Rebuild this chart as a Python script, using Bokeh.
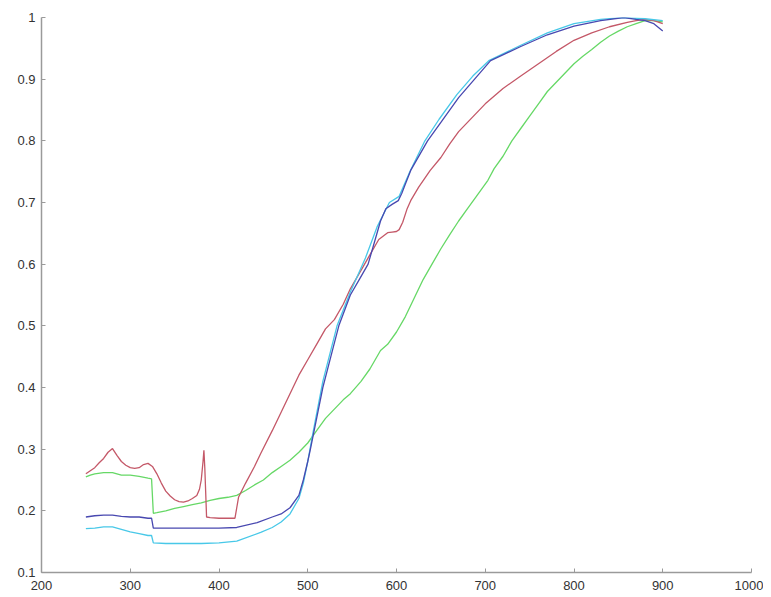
from bokeh.plotting import figure
from bokeh.embed import file_html
from bokeh.resources import INLINE
from bokeh.models import Range1d, FixedTicker

red_x = [250,255,260,265,270,275,280,285,290,295,300,305,310,315,320,325,330,335,340,345,350,355,360,365,370,375,378,380,382,383,384,386,390,400,410,418,420,422,430,440,447,460,470,480,490,500,510,520,530,540,548,560,570,580,590,595,600,603,607,612,616,625,638,650,660,670,680,690,700,720,740,760,780,800,820,840,860,870,880,890,900]
red_y = [0.26,0.265,0.27,0.278,0.285,0.295,0.301,0.29,0.28,0.274,0.27,0.269,0.27,0.275,0.277,0.272,0.26,0.245,0.232,0.224,0.218,0.215,0.214,0.216,0.22,0.225,0.235,0.25,0.28,0.298,0.27,0.19,0.189,0.188,0.188,0.188,0.205,0.222,0.245,0.272,0.293,0.33,0.36,0.39,0.42,0.445,0.47,0.495,0.51,0.535,0.56,0.59,0.615,0.64,0.651,0.652,0.653,0.656,0.668,0.69,0.703,0.725,0.752,0.773,0.795,0.815,0.83,0.845,0.86,0.885,0.905,0.925,0.945,0.963,0.975,0.985,0.992,0.995,0.997,0.995,0.99]

blue_x = [250,260,270,280,290,300,310,320,324,326,330,340,360,380,400,420,443,460,470,480,490,495,500,503,510,517,526,535,548,558,568,576,582,588,595,602,606,610,616,635,650,670,688,706,740,770,800,830,856,870,880,890,900]
blue_y = [0.19,0.192,0.193,0.193,0.191,0.19,0.19,0.188,0.188,0.172,0.172,0.172,0.172,0.172,0.172,0.173,0.181,0.19,0.195,0.205,0.225,0.25,0.28,0.30,0.35,0.40,0.45,0.50,0.55,0.575,0.60,0.64,0.67,0.69,0.697,0.703,0.715,0.73,0.752,0.80,0.83,0.87,0.90,0.93,0.953,0.972,0.986,0.995,1.0,0.997,0.995,0.99,0.978]

cyan_x = [250,260,270,280,290,300,310,320,324,326,340,360,380,400,420,447,460,470,480,490,495,500,505,517,533,548,565,578,592,603,615,632,648,668,686,704,740,770,800,830,856,880,900]
cyan_y = [0.171,0.172,0.174,0.174,0.17,0.166,0.163,0.16,0.16,0.148,0.147,0.147,0.147,0.148,0.151,0.165,0.173,0.182,0.195,0.22,0.245,0.28,0.32,0.41,0.50,0.555,0.61,0.66,0.70,0.71,0.75,0.80,0.835,0.875,0.905,0.93,0.955,0.975,0.99,0.997,1.0,0.998,0.995]

green_x = [250,255,260,270,280,290,300,310,320,324,326,330,340,350,360,370,380,390,400,410,420,430,440,450,460,470,480,490,500,510,520,530,540,548,560,570,582,590,600,610,620,630,640,650,660,670,680,690,703,710,720,730,740,750,760,770,780,790,800,810,820,830,840,850,860,870,880,890,900]
green_y = [0.255,0.258,0.26,0.262,0.262,0.258,0.258,0.256,0.253,0.252,0.196,0.197,0.2,0.204,0.207,0.21,0.213,0.217,0.22,0.222,0.225,0.233,0.242,0.25,0.262,0.272,0.282,0.295,0.31,0.33,0.35,0.365,0.38,0.39,0.41,0.43,0.46,0.47,0.49,0.515,0.545,0.575,0.60,0.625,0.648,0.67,0.69,0.71,0.736,0.755,0.775,0.80,0.82,0.84,0.86,0.88,0.895,0.91,0.925,0.937,0.948,0.96,0.97,0.978,0.985,0.99,0.995,0.995,0.993]

x_ticks = [200,300,400,500,600,700,800,900,1000]
y_ticks = [0.1,0.2,0.3,0.4,0.5,0.6,0.7,0.8,0.9,1.0]
y_labels = {0.1:"0.1",0.2:"0.2",0.3:"0.3",0.4:"0.4",0.5:"0.5",0.6:"0.6",0.7:"0.7",0.8:"0.8",0.9:"0.9",1.0:"1"}

p = figure(width=763, height=596, output_backend="svg", toolbar_location=None,
           x_range=Range1d(200, 1000), y_range=Range1d(0.1, 1.0),
           min_border_left=41, min_border_right=12, min_border_top=17, min_border_bottom=24)
p.outline_line_color = None
p.grid.visible = False
p.background_fill_color = "white"

p.line(green_x, green_y, line_color="#66d866", line_width=1.3)
p.line(red_x, red_y, line_color="#c45868", line_width=1.3)
p.line(cyan_x, cyan_y, line_color="#48c8e8", line_width=1.3)
p.line(blue_x, blue_y, line_color="#4848b0", line_width=1.3)

for ax in (p.xaxis[0], p.yaxis[0]):
    ax.axis_line_color = "#9a9a9a"
    ax.axis_line_width = 1.5
    ax.major_tick_line_color = "#9a9a9a"
    ax.major_tick_in = 4
    ax.major_tick_out = 0
    ax.minor_tick_line_color = None
    ax.major_label_text_font = "Liberation Sans"
    ax.major_label_text_font_size = "13px"
    ax.major_label_text_color = "#333333"

p.xaxis.ticker = FixedTicker(ticks=x_ticks)
p.yaxis.ticker = FixedTicker(ticks=y_ticks)
p.yaxis.major_label_overrides = y_labels
p.xaxis.major_label_standoff = 8
p.yaxis.major_label_standoff = 6

open("out.html", "w").write(file_html(p, INLINE))
